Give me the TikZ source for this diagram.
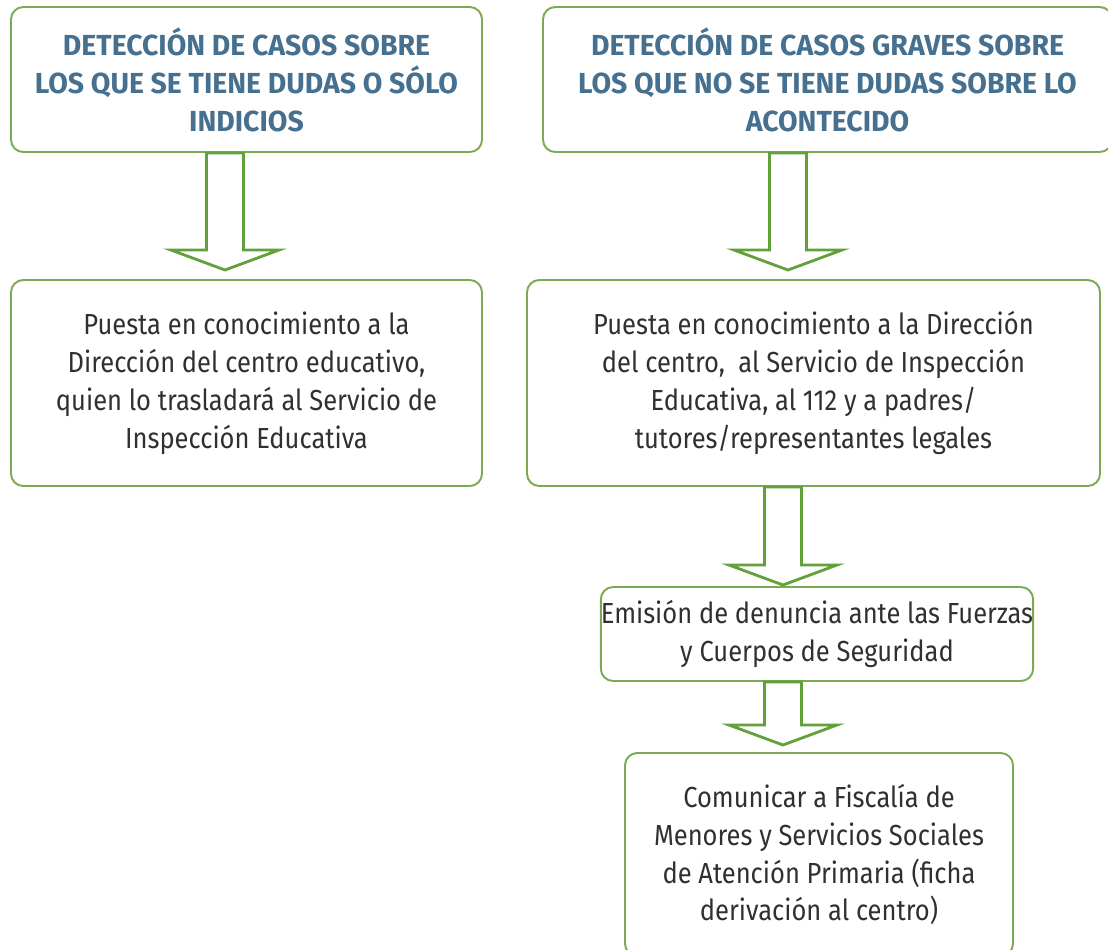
\documentclass[tikz,border=0pt]{standalone}
\usepackage{fontspec}
\setmainfont{Fira Sans}[FakeStretch=0.88]
\newfontfamily\titlefont{Fira Sans}[FakeStretch=0.98]
\usepackage{tikz}
\usetikzlibrary{positioning, calc}
\definecolor{boxgreen}{HTML}{7AAA52}
\definecolor{arrowgreen}{HTML}{62A03A}
\definecolor{titleblue}{HTML}{46708F}
\definecolor{textgrey}{HTML}{303030}
\tikzstyle{titlebox}=[rectangle,rounded corners=7pt,draw=boxgreen,line width=1.1pt,
inner sep=0pt,align=center,text=titleblue,
font=\fontsize{16.5}{21.6}\titlefont\bfseries]
\tikzstyle{stepbox}=[rectangle,rounded corners=7pt,draw=boxgreen,line width=1.1pt,
inner sep=0pt,align=center,text=textgrey,
font=\fontsize{16.5}{21.6}\selectfont]
\tikzstyle{fatarrow} = [draw=arrowgreen,line width=1.6pt,line join=miter,
to path={($(\tikztostart)+(-0.37,0)$) -- ($(\tikztotarget)+(-0.37,0.4)$)
-- ($(\tikztotarget)+(-1.08,0.4)$) -- (\tikztotarget)
-- ($(\tikztotarget)+(1.08,0.4)$) -- ($(\tikztotarget)+(0.37,0.4)$)
-- ($(\tikztostart)+(0.37,0)$) -- cycle}]

\begin{document}
\begin{tikzpicture}
    \useasboundingbox (0,0) rectangle (22.16,-18.98);
    \node[titlebox, minimum width=9.42cm, minimum height=2.9cm] (dudas) at (4.93,-1.59)
        {DETECCIÓN DE CASOS SOBRE\\LOS QUE SE TIENE DUDAS O SÓLO\\INDICIOS};
    \node[titlebox, minimum width=11.38cm, minimum height=2.9cm] (graves) at (16.55,-1.59)
        {DETECCIÓN DE CASOS GRAVES SOBRE\\LOS QUE NO SE TIENE DUDAS SOBRE LO\\ACONTECIDO};
    \node[stepbox, minimum width=9.42cm, minimum height=4.12cm] (direccion) at (4.93,-7.66)
        {Puesta en conocimiento a la\\Dirección del centro educativo,\\quien lo trasladará al Servicio de\\Inspección Educativa};
    \node[stepbox, minimum width=11.46cm, minimum height=4.12cm] (todos) at (16.27,-7.66)
        {Puesta en conocimiento a la Dirección\\del centro,\ \ al Servicio de Inspección\\Educativa, al 112 y a padres/\\tutores/representantes legales};
    \node[stepbox, minimum width=8.56cm, minimum height=1.88cm] (denuncia) at (16.34,-12.68)
        {Emisión de denuncia ante las Fuerzas\\y Cuerpos de Seguridad};
    \node[stepbox, minimum width=7.76cm, minimum height=4.06cm] (fiscalia) at (16.38,-17.09)
        {Comunicar a Fiscalía de\\Menores y Servicios Sociales\\de Atención Primaria (ficha\\derivación al centro)};

    \coordinate (dudasout) at (dudas.south -| 4.5,0);
    \coordinate (direccionin) at (4.5,-5.4);
    \coordinate (gravesout) at (graves.south -| 15.76,0);
    \coordinate (todosin) at (15.76,-5.4);
    \coordinate (todosout) at (todos.south -| 15.66,0);
    \coordinate (denunciain) at (15.66,-11.7);
    \coordinate (denunciaout) at (denuncia.south -| 15.66,0);
    \coordinate (fiscaliain) at (15.66,-14.9);

    \path[fatarrow]
        (dudasout) to (direccionin)
        (gravesout) to (todosin)
        (todosout) to (denunciain)
        (denunciaout) to (fiscaliain);
\end{tikzpicture}
\end{document}
